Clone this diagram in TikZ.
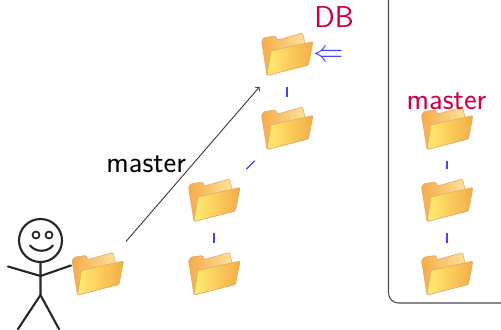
\documentclass[tikz,border=0pt]{standalone}
\usepackage{tikz}
\usetikzlibrary{arrows,positioning}
\definecolor{folderdark}{RGB}{245,172,72}
\definecolor{folderlight}{RGB}{255,228,160}
\definecolor{folderedge}{RGB}{218,168,100}
\definecolor{alertred}{RGB}{204,0,72}

\tikzset{
  folder/.style={minimum width=1.06cm, minimum height=0.88cm, inner sep=0pt,
    path picture={
      \begin{scope}[shift={(path picture bounding box.center)}, line width=0.3pt, rounded corners=0.6pt]
        % back of the folder, with its tab
        \shadedraw[draw=folderedge, left color=folderdark, right color=folderlight]
          (-0.51,0.28) -- (-0.45,0.35) -- (-0.23,0.38) -- (-0.19,0.30) -- (0.31,0.44)
          -- (0.37,0.20) -- (0.41,-0.20) -- (-0.40,-0.41) -- cycle;
        % open front flap
        \shadedraw[draw=folderedge, left color=folderlight!70!yellow, right color=folderdark]
          (-0.32,0.08) -- (0.52,0.27) -- (0.43,-0.20) -- (-0.40,-0.41) -- cycle;
      \end{scope}}},
}

\begin{document}
\begin{tikzpicture}[font=\sffamily\fontsize{17.2}{20}\selectfont]
  \useasboundingbox (0,0) rectangle (10.02,6.58);
  % stick figure
  \begin{scope}[line width=1.2pt, black!85, line cap=round]
    \draw (0.81,1.77) circle (0.43);
    \draw[line width=1pt] (0.72,1.88) circle (0.07) (0.98,1.88) circle (0.07);
    \draw (0.60,1.67) .. controls (0.72,1.53) and (0.94,1.53) .. (1.06,1.67);
    \draw (0.81,1.34) -- (0.81,0.68) -- (0.36,0);
    \draw (0.81,0.68) -- (1.18,0);
    \draw (0.16,1.25) -- (0.81,1.06) -- (1.42,1.27);
  \end{scope}
  % remote side
  \draw[black!70, line width=0.6pt, rounded corners=0.2cm] (7.77,7) -- (7.77,0.52) -- (10.6,0.52);

  \begin{scope}[every node/.style={folder}]
    \node (f0) at (1.95,1.09) {};
    \node (db) at (5.74,5.48) {};
    \node (c1) at (5.74,4.0) {};
    \node (c2) at (4.28,2.56) {};
    \node (c3) at (4.28,1.09) {};
    \node (r1) at (8.94,4.0) {};
    \node (r2) at (8.94,2.56) {};
    \node (r3) at (8.94,1.09) {};
  \end{scope}

  \node[alertred, anchor=base, inner sep=0pt] (dbname) at (6.68,6.03) {DB};
  \node[blue!75, inner sep=0pt] (push) at (6.58,5.47) {$\Leftarrow$};
  \node[alertred, anchor=base] (remote) at (8.93,4.38) {master};

  \draw[->, black!80, line width=0.5pt, shorten <=0.28cm, shorten >=0.25cm]
    (f0) -- node[left, black] (local) {master} (db);

  \begin{scope}[every edge/.style={draw=blue!75, line width=0.7pt, shorten <=0.19cm, shorten >=0.19cm}]
    \draw (db) edge (c1);
    \draw (c1) edge[shorten <=0.27cm, shorten >=0.27cm] (c2);
    \draw (c2) edge (c3);
    \draw (r1) edge (r2);
    \draw (r2) edge (r3);
  \end{scope}
\end{tikzpicture}
\end{document}
